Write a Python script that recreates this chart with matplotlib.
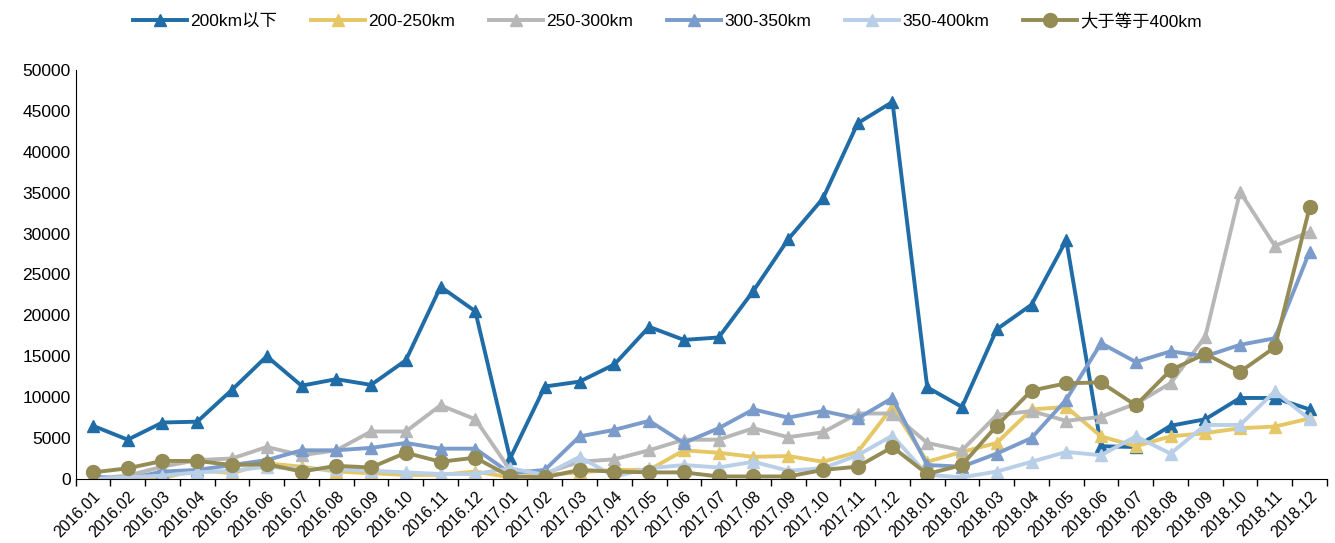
import matplotlib.pyplot as plt

plt.rcParams['font.family'] = ['Liberation Sans', 'Noto Sans CJK SC']

months = ['2016.%02d' % m for m in range(1, 13)] + \
         ['2017.%02d' % m for m in range(1, 13)] + \
         ['2018.%02d' % m for m in range(1, 13)]

below_200 = [6500, 4800, 6900, 7000, 10900, 15000, 11400, 12200, 11500, 14500, 23500, 20500,
             2500, 11300, 11900, 14000, 18600, 17000, 17300, 23000, 29300, 34300, 43500, 46100,
             11200, 8800, 18300, 21300, 29200, 4000, 3900, 6500, 7300, 9900, 9900, 8500]
r200_250 = [0, 0, 100, 1100, 700, 1900, 1500, 900, 700, 500, 500, 900,
            200, 500, 800, 1100, 1100, 3500, 3200, 2700, 2800, 2100, 3300, 8800,
            2100, 3300, 4400, 8500, 8800, 5200, 4000, 5200, 5600, 6200, 6400, 7400]
r250_300 = [0, 400, 1500, 2300, 2500, 3900, 2900, 3500, 5800, 5800, 9000, 7300,
            1100, 700, 2100, 2400, 3500, 4800, 4800, 6200, 5100, 5700, 8000, 8000,
            4400, 3500, 7800, 8300, 7100, 7600, 9200, 11700, 17400, 35100, 28500, 30200]
r300_350 = [300, 0, 900, 1100, 1700, 2300, 3500, 3500, 3800, 4400, 3700, 3700,
            700, 1100, 5200, 6000, 7100, 4400, 6200, 8500, 7500, 8300, 7400, 9900,
            1700, 1500, 3100, 5000, 9700, 16600, 14300, 15600, 15000, 16400, 17200, 27800]
r350_400 = [0, 200, 400, 800, 1000, 1500, 1200, 1200, 1000, 800, 600, 600,
            1300, 500, 2700, 300, 1300, 1700, 1400, 2100, 1000, 1300, 2900, 5300,
            500, 200, 900, 2100, 3300, 2900, 5200, 3100, 6600, 6600, 10700, 7300]
above_400 = [800, 1300, 2200, 2200, 1700, 1800, 900, 1600, 1400, 3200, 2100, 2600,
             300, 200, 1100, 900, 800, 800, 300, 300, 300, 1100, 1500, 3900,
             600, 1700, 6500, 10800, 11700, 11800, 9000, 13300, 15300, 13100, 16100, 33200]

series = [
    ('200km以下', below_200, '#1F6CA6', '^', 8),
    ('200-250km', r200_250, '#E6C765', '^', 8),
    ('250-300km', r250_300, '#B7B7B7', '^', 8),
    ('300-350km', r300_350, '#7B9CCB', '^', 8),
    ('350-400km', r350_400, '#B9CFE8', '^', 8),
    ('大于等于400km', above_400, '#958B55', 'o', 10),
]

fig = plt.figure(figsize=(13.35, 5.43), dpi=100)
ax = fig.add_axes([0.0566, 0.118, 0.9374, 0.753])

x = list(range(len(months)))
for name, vals, color, mk, ms in series:
    ax.plot(x, vals, color=color, lw=2.8, marker=mk, markersize=ms, label=name)

ax.set_xlim(-0.5, len(months) - 0.5)
ax.set_ylim(0, 50000)
ax.set_yticks(range(0, 50001, 5000))
ax.tick_params(axis='y', labelsize=12.5, length=0)
ax.set_xticks(x)
ax.set_xticklabels(months, rotation=45, ha='right', rotation_mode='anchor', fontsize=11.5)
ax.set_xticks([i - 0.5 for i in range(len(months) + 1)], minor=True)
ax.tick_params(axis='x', which='major', length=0, pad=7)
ax.tick_params(axis='x', which='minor', length=5, width=1)
for s in ['top', 'right']:
    ax.spines[s].set_visible(False)

fig.legend(loc='upper center', bbox_to_anchor=(0.5, 1.006), ncol=6, frameon=False,
           fontsize=12.5, handlelength=3.1, columnspacing=1.95, handletextpad=0.2)

fig.savefig('out.png', dpi=100)
